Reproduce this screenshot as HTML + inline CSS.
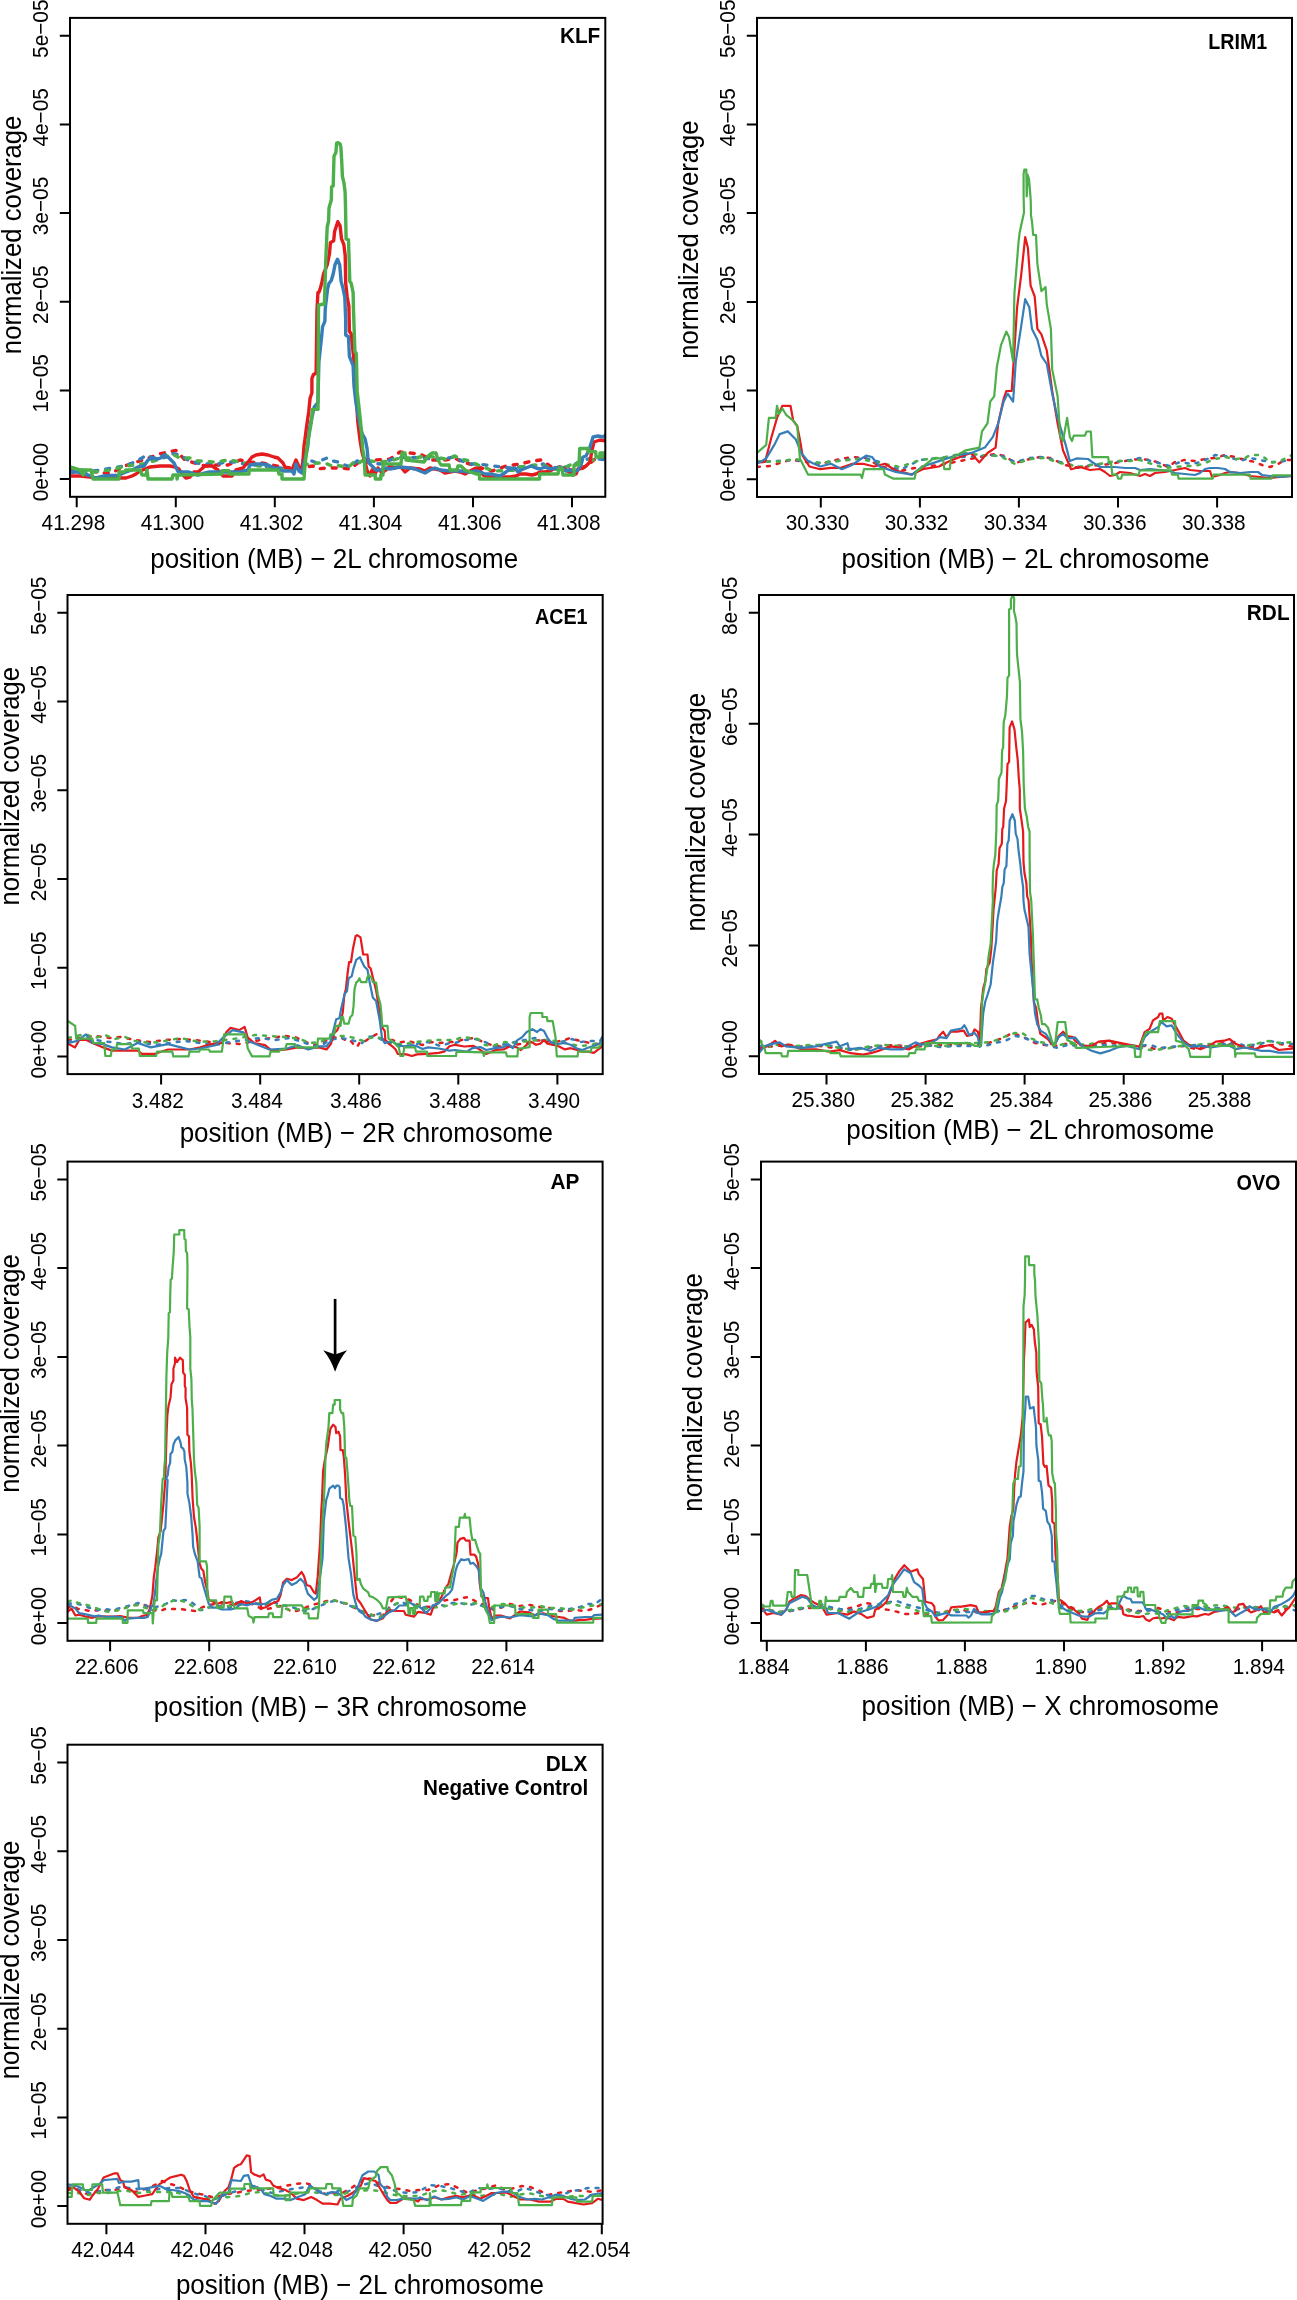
<!DOCTYPE html><html><head><meta charset="utf-8"><style>html,body{margin:0;padding:0;background:#fff;}svg{display:block;}text{font-family:"Liberation Sans",sans-serif;}svg{will-change:transform;}</style></head><body>
<svg width="1297" height="2300" viewBox="0 0 1297 2300">
<rect width="1297" height="2300" fill="#fff"/>
<clipPath id="c0"><rect x="70" y="17.9" width="535.3" height="478.9"/></clipPath>
<g clip-path="url(#c0)" fill="none" stroke-width="3.4" stroke-linejoin="round" stroke-linecap="round">
<path d="M70 470 76 474 84 472 92 471 100 473 111 473 126 465.5 138 461.5 149 458 159 454 166 452.5 176 450.5 185 460 195 463 205 466 216 465 228 465 240 460 250 462 262 463 272 465 282 467 292 468 300 468 306 467 313 466 317 469 326 468 340 468 350 469 353 467 362 459 375 460 390 459 400 452 410 453 420 454 432 460 445 460 455 458 462 462 470 464 478 467 492 471 506 466 520 464 532 461 541 460 553 468 560 467 568 469 575 471 580 469 589 464 595 459 600 458 606 457" stroke="#E41A1C" stroke-width="3.40" stroke-dasharray="4 8"/>
<path d="M70 472 78 471 88 472 100 470 112 468 125 466 135 462 147 455 153 458 160 457 169 453 180 455 188 460 197 463 208 464 218 464 225 462 235 462 245 464 255 465 262 466 270 467 280 468 290 470 300 468 306 464 312 461 317 463 322 460 327 458 333 461 338 462 345 465 351 467 357 461 365 462 380 464 395 458 408 457 420 458 435 459 448 458 455 457 462 461 470 464 478 464 494 466 510 468 522 467 536 466 543 464 550 469 566 467 570 466 580 462 588 459 600 459 606 460" stroke="#377EB8" stroke-width="3.40" stroke-dasharray="4 8"/>
<path d="M70 467 76 469 84 470 95 472 110 470 122 467 130 465.5 136 465 145 463.5 152 461.5 161 459 172 454 180 458 192 458 198 461 205 461 212 462 222 461 228 460 235 461 245 463 252 465 260 466 268 467 275 468 283 470 290 469 296 468 302 466 308 464 319 463 325 463 333 466.5 338 465.7 345 466.6 349 466.6 355 461 359 463 365 459 370 461 380 462 390 461 400 458 415 458 425 456 435 457 445 459 455 456 460 459 470 461 480 466 494 471 518 470 520 467 535 465 545 466 550 468 560 470 570 465 575 463 585 461 590 460 595 460 600 457 606 455" stroke="#4DAF4A" stroke-width="3.40" stroke-dasharray="4 8"/>
<path d="M70 476 80 476 90 477 96 478 104 478 112 477 120 478 126 478 132 476 136 474 140 471 145 469 150 467 160 466 170 466 175 467 179 469 182 474 186 478 190 477 194 472 198 472 205 466 212 466 218 470 223 476 232 476 236 470 243 468 248 462 252 457 256 455 262 454 268 455 274 457 278 458 283 463 285 467 292 470 296 460 299 467 302 468 303 460 304 446 305 439 306.4 428 308.7 412 310.1 398 311.9 393 311.9 378.5 313.3 374.8 316.1 373 317 310 317.9 292.5 318.9 292.5 320.2 288.8 322.1 281.4 323.5 274 327.2 264.8 329.5 253.7 330.4 242.6 333.7 240.7 334.6 231.5 337.8 221.7 340.1 225.9 341.5 238.9 343.8 244.4 345.2 255.5 345.7 283.3 347.1 296.2 348.9 306.4 349.4 331.3 351.2 334 354 360.9 356 390 357.7 421 360 440 362 452 364 459 365 462 367 470 370 476 372 470 375 474 378 468 382 473 386 470 390 466 395 468 400 466 405 472 410 468 420 469 425 471 430 468 440 470 445 473 455 471 460 472 465 474 470 471 476 468 480 470 483 475 490 477 500 477 510 477 516 476 520 474 526 474 532 475 536 474 540 472 545 472 550 471 555 468 560 468 565 469 570 473 573 475 576 474 578 469 583 468 586 466 590 462 592 450 594 442 600 440 606 441" stroke="#E41A1C" stroke-width="3.40"/>
<path d="M70 472 78 472 88 475 96 478 104 476 110 475.5 118 475.5 126 472 132 470 138 467 144 466 148 460 153 458 158 459 163 457 168 457 174 463 178 471.6 188 472 198 475 205 473 210 472 220 472 230 472 240 472 248 470 250 465 256 464 262 464 268 465 272 467 278 469 283 471 292 471 294 474 296 464 299 471 302 473 303.6 464.8 305.9 455.5 307.8 446.3 309.6 427.8 311.9 417.6 314.2 407.1 317.9 402.5 318.9 361.8 321.6 336.8 322.6 326.7 324.9 321.1 325.2 310 325.6 305 326.3 299.9 327.6 288.8 329 283.3 331.3 280.5 333.2 274 335 264.8 337.5 259.2 339.7 264.8 341.1 281.4 342.9 287.9 344.8 297.1 345.7 320 345.7 335 348.5 336.8 349.4 356.3 353.1 365.5 354 385.9 355.9 402.5 358 415 360 425 362.3 434.2 365.1 438.9 367 448.1 367.9 457.4 368.8 462.9 372 466 376 470 380 470 385 468 390 469 400 467 410 468 415 469 420 471 425 473 430 470 435 468 440 470 450 471 460 471 470 472 476 471 480 472 485 474 490 474 495 475 500 476 503 474 506 472 510 469 515 468 518 472 521 470 526 468 531 466 536 468 540 469 545 467 550 469 556 468 560 467 566 471 570 470 574 472 578 470 581 465 583 457 586 456 588 452 590 447 593 437 598 436 604 437 606 434" stroke="#377EB8" stroke-width="3.40"/>
<path d="M70 467 80 470 83 475 86 470 91 470 93 479 119 479 119 472 124 472 126 470 140 470 142 475 146 475 147 470 148 479 172 479 173 475 177 475 177 479 178 475 222 474 222 470.6 229 470.6 229 474 249 474 249 470 278 470 279 474 282 474 282 479 304 479 305 465 308 440 310 430 311.5 421 312.4 409.4 318 409.4 318.5 305 324.4 304 325.8 260 327.2 227 328.6 221 329 208 331.3 200 331.6 187 333.2 186 334 156.2 335.9 152.4 336.6 143.1 338.2 142.7 340.1 143.9 340.9 147.7 341.7 160.8 342.4 176.3 344 183.2 345.1 191.7 345.5 207 346.1 238.9 348.5 239.8 349.8 281.4 351.2 283.3 353.1 292.5 353.5 310 354.9 351.6 356.3 353.5 357.2 391.4 360.5 421 362.8 450 364.2 457.4 365.1 475 375.3 475 375.3 479 380.8 479 380.8 475 383 475 383 464 401 464 402 453 405 453 406 460 424 462 428 456 432 453 436 453 438 460 441 465 449 465 450 470 457 470 458 466 461 466 465 470 476 474 479.5 474 479.5 479 539.6 479 539.6 474 558 474 559 468 562 468 563 475 574 475 574 465 579 465 579.7 448.5 588 448.5 588 451.6 595.7 451.6 596 457 600 457 600 453 606 453" stroke="#4DAF4A" stroke-width="3.40"/>
</g>
<rect x="70" y="17.9" width="535.3" height="478.9" fill="none" stroke="#000" stroke-width="2"/>
<text transform="translate(48.2,472.1) rotate(-90) scale(0.9579,1)" font-size="21.72" text-anchor="middle">0e+00</text>
<text transform="translate(48.2,383.4) rotate(-90) scale(0.9579,1)" font-size="21.72" text-anchor="middle">1e−05</text>
<text transform="translate(48.2,294.7) rotate(-90) scale(0.9579,1)" font-size="21.72" text-anchor="middle">2e−05</text>
<text transform="translate(48.2,206) rotate(-90) scale(0.9579,1)" font-size="21.72" text-anchor="middle">3e−05</text>
<text transform="translate(48.2,117.4) rotate(-90) scale(0.9579,1)" font-size="21.72" text-anchor="middle">4e−05</text>
<text transform="translate(48.2,28.7) rotate(-90) scale(0.9579,1)" font-size="21.72" text-anchor="middle">5e−05</text>
<text transform="translate(73.4,530.2) scale(0.9579,1)" font-size="21.72" text-anchor="middle">41.298</text>
<text transform="translate(172.5,530.2) scale(0.9579,1)" font-size="21.72" text-anchor="middle">41.300</text>
<text transform="translate(271.5,530.2) scale(0.9579,1)" font-size="21.72" text-anchor="middle">41.302</text>
<text transform="translate(370.6,530.2) scale(0.9579,1)" font-size="21.72" text-anchor="middle">41.304</text>
<text transform="translate(469.7,530.2) scale(0.9579,1)" font-size="21.72" text-anchor="middle">41.306</text>
<text transform="translate(568.8,530.2) scale(0.9579,1)" font-size="21.72" text-anchor="middle">41.308</text>
<path d="M70 479.1H59.8M70 390.4H59.8M70 301.7H59.8M70 213H59.8M70 124.4H59.8M70 35.7H59.8M76.7 496.8V507.2M175.8 496.8V507.2M274.8 496.8V507.2M373.9 496.8V507.2M473 496.8V507.2M572 496.8V507.2" stroke="#000" stroke-width="2" fill="none"/>
<text transform="translate(334.2,567.6) scale(0.9579,1)" font-size="27.14" text-anchor="middle">position (MB) − 2L chromosome</text>
<text transform="translate(21.1,234.9) rotate(-90) scale(0.9579,1)" font-size="26.83" text-anchor="middle">normalized coverage</text>
<text transform="translate(600.3,43.4) scale(0.9579,1)" font-size="21.72" text-anchor="end" font-weight="bold">KLF</text>
<clipPath id="c1"><rect x="757" y="17.9" width="535" height="479.1"/></clipPath>
<g clip-path="url(#c1)" fill="none" stroke-width="3.4" stroke-linejoin="round" stroke-linecap="round">
<path d="M757 467 770 466 790 460 800 461 820 464 840 459 852 457 865 458 880 466 900 471 920 467 940 465 960 461 980 457 995 454 1005 456 1015 463 1030 459 1040 457 1050 458 1065 465 1080 468 1090 466 1100 465 1110 464 1120 462 1130 460 1140 459 1150 460 1160 463 1168 467 1175 462 1185 460 1195 461 1205 459 1215 458 1225 455 1235 457 1245 460 1255 462 1262 465 1270 467 1278 464 1285 460 1292 460" stroke="#E41A1C" stroke-width="2.50" stroke-dasharray="2.9 7.1"/>
<path d="M757 462 775 461 795 460 820 463 845 460 865 458 880 462 900 470 920 460 940 458 960 457 980 456 1000 455 1015 462 1030 458 1045 457 1060 462 1080 467 1090 465 1100 464 1110 463 1120 461 1130 460 1140 458 1155 462 1170 466 1180 462 1192 464 1200 462 1210 458 1215 455 1225 456 1235 459 1240 461 1250 458 1260 460 1270 462 1280 462 1292 459" stroke="#377EB8" stroke-width="2.50" stroke-dasharray="2.9 7.1"/>
<path d="M757 461 775 462 795 459 815 463 840 461 860 459 880 463 900 467 920 460 945 457 965 453 980 455 1000 456 1015 464 1030 459 1045 458 1060 463 1080 467 1090 465 1100 464 1110 462 1120 461 1130 461 1140 460 1155 465 1165 468 1175 467 1188 466 1195 466 1205 463 1215 459 1225 457 1235 459 1245 458 1250 455 1260 455 1265 458 1270 463 1280 461 1292 455" stroke="#4DAF4A" stroke-width="2.50" stroke-dasharray="2.9 7.1"/>
<path d="M757 462.4 765 462 771.6 436.8 777 417.9 782.4 405.8 790.5 405.8 793.2 420.6 797.2 426 799.9 439.5 802.6 455.7 809.4 466.5 820.2 469.2 831 467.8 841 467.8 852.5 463.8 863 463.8 874.1 466.5 884.9 463.8 895.7 470.5 911.9 474.6 922.7 469.2 938.9 466.5 949.7 461.1 963.2 455.7 971 453 979.4 462.4 987.5 453 995.6 447.6 998.2 423.3 1003.6 399 1006.3 391 1011.7 391 1014.4 350.5 1017.1 307.3 1021.2 274.9 1025.2 237.1 1027.9 247.9 1030.6 285.7 1034.7 296.5 1037.4 328.9 1041.4 334.3 1046.8 350.5 1052.2 391 1057.6 423.3 1063 450.3 1071.1 469.2 1080 467 1090 470 1100 469 1105 472 1110 476 1115 475 1120 472 1130 473 1140 476 1145 474 1150 476 1155 473 1165 472 1175 470 1180 469 1185 468 1190 470 1200 471 1210 471 1212 477 1220 475 1225 473 1230 472 1240 473 1250 476 1260 477 1270 478 1280 477 1292 476" stroke="#E41A1C" stroke-width="2.20"/>
<path d="M757 463.8 766.2 458.4 774.3 444.9 779.7 434.1 787.8 431.4 795.9 439.5 801.3 453 808 461.1 820.2 466.5 831 463.8 841.7 469.2 852 465 866 455.7 872 457 879.5 466.5 895.7 471.9 911.9 474.6 922.7 466.5 938.9 461.1 955.1 455.7 971.3 453 984.8 447.6 992.9 436.8 998.2 423.3 1003.6 401.7 1007.7 393.6 1013.1 401.7 1015.8 361.3 1021.2 326.2 1025.2 299.2 1029.3 307.3 1032 328.9 1037.4 339.7 1041.4 355.9 1046.8 364 1052.2 393.6 1057.6 417.9 1065.7 444.9 1069.8 461.1 1076.5 458.4 1088 459 1092 462 1100 467 1110 467 1115 467 1125 468 1135 468 1140 470 1150 469 1160 470 1170 471 1175 473 1185 474 1195 475 1200 473 1205 469 1210 468 1218 468 1225 469 1230 472 1240 473 1250 472 1258 472 1262 475 1270 476 1280 477 1292 476" stroke="#377EB8" stroke-width="2.20"/>
<path d="M757 453 766.2 444.9 768.9 417.9 775.6 417.9 777 405.8 779 414 782.4 408.5 786.4 415.2 793.2 420.6 797.2 426 799.9 458.4 808 474.6 860.6 474.6 862 478 864 469.2 883.6 469.2 884.9 474.6 893 478.6 914.6 478.6 916 471.9 933.5 458.4 943 458.4 944.3 469.2 949.7 469.2 951 458.4 965.9 450.3 979.4 447.6 982 431.4 987.5 423.3 990.2 401.7 994.2 396.3 996.9 366.7 1001 345.1 1006.3 331.6 1009 337 1013.1 361.3 1014.4 293.8 1018.5 242.5 1019.6 232.8 1020.9 226.7 1022.7 218.6 1024 212.5 1023.6 195.2 1023.6 174.2 1024.3 169.6 1026.3 169.6 1026.5 182 1026.7 196.4 1027.3 185 1027.5 174.5 1028.9 178.5 1029.8 187.8 1030.7 200.1 1031 215.6 1032 221.7 1033.2 235 1036 235 1037.4 264.1 1041.4 291.1 1045.5 287.1 1046.8 304.6 1050.9 328.9 1052.2 369.4 1057.6 396.3 1060.3 436.8 1063 441 1067.1 417.9 1069.8 436.8 1072 441 1073.8 435.5 1085 435.6 1086.6 431.5 1090.8 431.5 1092.4 457.2 1108.2 457.2 1109 463 1111 463 1112.3 474.6 1117 474.6 1118.1 478.7 1121 478.7 1122.3 474.6 1138.8 474.6 1139.7 470.4 1171.2 470.4 1172 474.6 1177.8 474.6 1178.6 478.7 1212.6 478.7 1213.4 474.6 1249.9 474.6 1250.7 478.7 1271.4 478.7 1272.3 475.4 1292 475.4" stroke="#4DAF4A" stroke-width="2.20"/>
</g>
<rect x="757" y="17.9" width="535" height="479.1" fill="none" stroke="#000" stroke-width="2"/>
<text transform="translate(735.2,472.3) rotate(-90) scale(0.9579,1)" font-size="21.72" text-anchor="middle">0e+00</text>
<text transform="translate(735.2,383.6) rotate(-90) scale(0.9579,1)" font-size="21.72" text-anchor="middle">1e−05</text>
<text transform="translate(735.2,294.9) rotate(-90) scale(0.9579,1)" font-size="21.72" text-anchor="middle">2e−05</text>
<text transform="translate(735.2,206.1) rotate(-90) scale(0.9579,1)" font-size="21.72" text-anchor="middle">3e−05</text>
<text transform="translate(735.2,117.4) rotate(-90) scale(0.9579,1)" font-size="21.72" text-anchor="middle">4e−05</text>
<text transform="translate(735.2,28.7) rotate(-90) scale(0.9579,1)" font-size="21.72" text-anchor="middle">5e−05</text>
<text transform="translate(817.5,530.4) scale(0.9579,1)" font-size="21.72" text-anchor="middle">30.330</text>
<text transform="translate(916.6,530.4) scale(0.9579,1)" font-size="21.72" text-anchor="middle">30.332</text>
<text transform="translate(1015.6,530.4) scale(0.9579,1)" font-size="21.72" text-anchor="middle">30.334</text>
<text transform="translate(1114.7,530.4) scale(0.9579,1)" font-size="21.72" text-anchor="middle">30.336</text>
<text transform="translate(1213.8,530.4) scale(0.9579,1)" font-size="21.72" text-anchor="middle">30.338</text>
<path d="M757 479.3H746.8M757 390.6H746.8M757 301.9H746.8M757 213.1H746.8M757 124.4H746.8M757 35.7H746.8M820.8 497V507.4M919.9 497V507.4M1018.9 497V507.4M1118 497V507.4M1217.1 497V507.4" stroke="#000" stroke-width="2" fill="none"/>
<text transform="translate(1025.5,568) scale(0.9579,1)" font-size="27.14" text-anchor="middle">position (MB) − 2L chromosome</text>
<text transform="translate(698,239.6) rotate(-90) scale(0.9579,1)" font-size="26.83" text-anchor="middle">normalized coverage</text>
<text transform="translate(1267.3,49.2) scale(0.9579,1)" font-size="21.72" text-anchor="end" font-weight="bold" textLength="61.60" lengthAdjust="spacingAndGlyphs">LRIM1</text>
<clipPath id="c2"><rect x="67.5" y="595" width="535.2" height="479.1"/></clipPath>
<g clip-path="url(#c2)" fill="none" stroke-width="3.4" stroke-linejoin="round" stroke-linecap="round">
<path d="M68 1040 80 1038 95 1036 110 1038 120 1037 135 1040 150 1042 165 1040 180 1039 195 1040 210 1042 225 1043 240 1044 255 1041 270 1038 285 1036 295 1037 305 1042 315 1045 322 1043 330 1038 340 1037 345 1040 350 1040 354 1045 357 1047 360 1042 364 1042 369.7 1038 377 1034 383.7 1040 392.3 1040 400 1042.5 408 1041 415 1043 422.5 1045 431.2 1042 438.7 1043 449.5 1042 455 1042 465 1039 475 1038 485 1043 495 1046 505 1047 515 1045 525 1043 535 1040 545 1041 555 1042 565 1040 570 1038 580 1041 590 1043 598 1044 603 1044" stroke="#E41A1C" stroke-width="2.50" stroke-dasharray="2.9 7.1"/>
<path d="M68 1042 80 1039 95 1040 110 1042 125 1044 140 1042 155 1045 170 1043 185 1041 200 1043 215 1045 230 1042 245 1040 260 1038 275 1040 290 1038 305 1043 315 1046 322 1045 330 1040 340 1038 347 1039 355 1041 362 1043 368 1037 375 1036 382 1040 390 1043 400 1046 410 1046 420 1043 430 1042 440 1046 450 1043 455 1043 465 1040 475 1039 485 1042 495 1047 505 1044 515 1042 525 1040 535 1038 545 1041 555 1043 565 1041 572 1039 580 1042 590 1041 600 1041 603 1036" stroke="#377EB8" stroke-width="2.50" stroke-dasharray="2.9 7.1"/>
<path d="M68 1038 85 1034 95 1038 105 1035 115 1039 125 1037 135 1041 150 1043 165 1041 180 1038 195 1041 210 1042 225 1040 240 1038 255 1035 270 1036 285 1037 300 1039 310 1043 320 1042 333 1036 345 1036 355 1038 363 1041 370 1038 378 1037 385 1041 395 1044 405 1044 415 1042 425 1041 435 1040 445 1040 455 1040 462 1037 470 1038 478 1039 485 1045 492 1046 498 1044 505 1042 512 1043 520 1042 530 1041 540 1040 550 1040 560 1042 570 1044 580 1046 590 1045 600 1043 603 1040" stroke="#4DAF4A" stroke-width="2.50" stroke-dasharray="2.9 7.1"/>
<path d="M68.6 1044.1 75 1047.4 79.4 1039.8 86 1039.8 92.4 1043 103.2 1047.4 111.8 1050.6 137.7 1050.6 142 1053.8 155 1053.8 168 1049.5 189.5 1049.5 200.3 1047.4 211.1 1044.1 221.9 1043 226.2 1032.3 230.6 1027.9 239.2 1030.1 244.6 1026.9 247.8 1037.7 254.3 1043 265.1 1045.2 271.6 1050.6 286.7 1049.5 297.5 1047.4 308.3 1048.5 319.1 1047.4 326.5 1049.5 330.8 1044.1 334 1033.3 337.3 1030.1 340.5 1022.5 342.7 1012.8 344.3 995.6 345.9 989.1 347.5 974 349.1 962.1 351 962.1 352.9 949.1 355.6 936.2 357.2 935.1 360.5 937.3 363.2 954.5 367.5 954.5 368.6 966.4 370.7 968.6 373.4 979.4 376.1 990.2 378.3 1004.2 381 1021.5 382.6 1027.9 384.8 1031.2 385.3 1039.8 389.1 1044.1 392.3 1046.3 395.6 1049.5 397.7 1053.9 406.4 1054.4 411.8 1056 417 1054.4 427.9 1053.9 438.7 1052.8 444.1 1051.7 449.5 1046.3 455 1044.8 464.3 1046.5 473.5 1045.9 479.3 1049.4 486.2 1054 495.5 1050 503.6 1049.4 509.4 1046.5 516.3 1047.1 520.9 1050 526.7 1044.8 531.3 1041.9 536 1044.8 540.6 1043.6 544 1040.1 547.5 1043.6 553.3 1044.8 559.1 1046.5 564.9 1049.4 570.6 1048.2 575.3 1049.4 582.2 1051.7 588 1051.7 593.8 1052.9 598.4 1049.4 603 1045.9" stroke="#E41A1C" stroke-width="2.20"/>
<path d="M68.6 1043 77.3 1040.9 85.9 1034.4 92.4 1043 103.2 1044.1 111.8 1047.4 124.8 1049.5 137.7 1043 150.7 1047.4 168 1044.1 180.9 1047.4 189.5 1049.5 200.3 1048.5 215.4 1045.2 224.1 1036.6 232.7 1030.1 243.5 1032.3 247.8 1040.9 258.6 1045.2 269.4 1049.5 286.7 1048.5 297.5 1045.2 308.3 1049.5 319.1 1046.3 326.5 1046.3 330.8 1040.9 334 1028 336.2 1019.3 339.4 1018.2 341 1009.6 343.2 999.9 344.8 993.4 347 991.2 348.6 978.3 351.8 976.1 353.5 968.6 356.2 959.9 360 957.2 361.6 961 364.3 966.4 367.5 969.7 369.7 982.6 372.9 997.7 376.1 1001 378.3 1012.8 379.9 1021.5 382.1 1038.7 384.8 1043.1 389 1042 393.4 1042 397.7 1045.2 404.2 1046.3 411.8 1045.2 417 1046.3 422.5 1049 428 1047.4 438.7 1048.5 449.5 1050.6 455 1050 466.6 1051.7 472.3 1048.2 480.4 1047.1 486.2 1050 495.5 1048.2 503.6 1047.1 508.2 1044.2 512.8 1048.2 517.4 1040.1 522.1 1037.2 526.7 1032 532.5 1029.2 537.1 1032 540.6 1029.2 544 1030.9 547.5 1037.8 551 1042.5 556.8 1044.2 564.9 1043 570.6 1044.8 576.4 1048.2 582.2 1050 588 1047.7 593.8 1045.9 599.6 1043.6 603 1035.5" stroke="#377EB8" stroke-width="2.20"/>
<path d="M68.6 1021.5 75.1 1025.8 76.2 1038.7 92.4 1038.7 93.5 1043 104.3 1043 105.3 1056 110.7 1056 111.8 1049.5 116 1049.5 117.2 1044.1 131.2 1044.1 132 1048.5 138.8 1048.5 139.9 1056 156.1 1056 157.1 1051.7 172.3 1051.7 173.3 1056.4 188.5 1056.4 189.5 1051.7 199 1051.7 200.3 1049.5 209 1049.5 210 1051.7 221.9 1051.7 224.1 1034.4 245.7 1034.4 247.8 1048.5 252.1 1056.4 269.4 1056.4 270.5 1051.7 279 1051.7 280.2 1049.5 285 1049.5 286.7 1044.1 295 1044.1 296 1047.4 317 1047.4 318 1038.7 329.7 1038.7 330.3 1034.4 334 1034.4 335.7 1025.8 340.5 1025.8 341.6 1017.2 343 1017.2 344.3 1023.6 348.6 1023.6 350.2 1017.2 352.4 1015 353.5 1006.4 354.5 989.1 356.2 982.6 358.3 980.5 359.4 978.3 361 982.1 366.4 982.1 367 978.3 368.6 975.1 371.8 978.3 372.9 982.1 376.1 982.6 377.8 994.5 380.4 1004.2 381.5 1015 382.1 1025.8 387.5 1025.8 388.5 1038.7 393.4 1042 398.8 1047.4 400.4 1056 403.1 1056 404.2 1047.4 415 1047.4 416.1 1051.7 426.9 1051.7 427.4 1056 456 1056 456.6 1051.7 483 1052.3 483.9 1056 485 1052.3 505.9 1052.3 507 1056.3 517.4 1056.3 518 1048.8 529.6 1047.1 529.6 1017 530.7 1013 542.3 1013 542.3 1017 546.9 1017 547.5 1021.1 552.7 1021.1 555.6 1037.8 556.8 1056.3 577.6 1056.3 578.2 1051.7 590.9 1051.7 591.5 1047.7 598.4 1047.7 603 1042.5" stroke="#4DAF4A" stroke-width="2.20"/>
</g>
<rect x="67.5" y="595" width="535.2" height="479.1" fill="none" stroke="#000" stroke-width="2"/>
<text transform="translate(45.7,1049.4) rotate(-90) scale(0.9579,1)" font-size="21.72" text-anchor="middle">0e+00</text>
<text transform="translate(45.7,960.7) rotate(-90) scale(0.9579,1)" font-size="21.72" text-anchor="middle">1e−05</text>
<text transform="translate(45.7,872) rotate(-90) scale(0.9579,1)" font-size="21.72" text-anchor="middle">2e−05</text>
<text transform="translate(45.7,783.2) rotate(-90) scale(0.9579,1)" font-size="21.72" text-anchor="middle">3e−05</text>
<text transform="translate(45.7,694.5) rotate(-90) scale(0.9579,1)" font-size="21.72" text-anchor="middle">4e−05</text>
<text transform="translate(45.7,605.8) rotate(-90) scale(0.9579,1)" font-size="21.72" text-anchor="middle">5e−05</text>
<text transform="translate(157.8,1107.5) scale(0.9579,1)" font-size="21.72" text-anchor="middle">3.482</text>
<text transform="translate(256.9,1107.5) scale(0.9579,1)" font-size="21.72" text-anchor="middle">3.484</text>
<text transform="translate(355.9,1107.5) scale(0.9579,1)" font-size="21.72" text-anchor="middle">3.486</text>
<text transform="translate(455,1107.5) scale(0.9579,1)" font-size="21.72" text-anchor="middle">3.488</text>
<text transform="translate(554.1,1107.5) scale(0.9579,1)" font-size="21.72" text-anchor="middle">3.490</text>
<path d="M67.5 1056.4H57.3M67.5 967.7H57.3M67.5 879H57.3M67.5 790.2H57.3M67.5 701.5H57.3M67.5 612.8H57.3M161.1 1074.1V1084.5M260.2 1074.1V1084.5M359.2 1074.1V1084.5M458.3 1074.1V1084.5M557.4 1074.1V1084.5" stroke="#000" stroke-width="2" fill="none"/>
<text transform="translate(366.3,1141.9) scale(0.9579,1)" font-size="27.14" text-anchor="middle">position (MB) − 2R chromosome</text>
<text transform="translate(18.9,786.2) rotate(-90) scale(0.9579,1)" font-size="26.83" text-anchor="middle">normalized coverage</text>
<text transform="translate(587.5,623.5) scale(0.9579,1)" font-size="21.72" text-anchor="end" font-weight="bold" textLength="54.91" lengthAdjust="spacingAndGlyphs">ACE1</text>
<clipPath id="c3"><rect x="759" y="595" width="535" height="479"/></clipPath>
<g clip-path="url(#c3)" fill="none" stroke-width="3.4" stroke-linejoin="round" stroke-linecap="round">
<path d="M759 1048 775 1046 790 1045 805 1047 820 1046 835 1048 850 1049 865 1048 880 1046 895 1045 910 1047 925 1046 940 1045 955 1045 975 1044 985 1044 995 1041 1005 1037 1012 1033 1018 1035 1025 1038 1035 1043 1045 1045 1055 1046 1065 1044 1075 1045 1090 1047 1100 1044 1110 1042 1120 1045 1135 1046 1145 1046 1155 1049 1165 1048 1175 1047 1185 1046 1195 1049 1205 1047 1215 1044 1225 1043 1235 1045 1245 1046 1255 1047 1265 1046 1280 1044 1294 1047" stroke="#E41A1C" stroke-width="2.50" stroke-dasharray="2.9 7.1"/>
<path d="M759 1046 775 1044 790 1046 805 1047 820 1045 835 1046 850 1050 865 1048 880 1046 895 1047 910 1046 925 1045 940 1047 955 1046 975 1046 985 1046 995 1043 1005 1041 1015 1036 1022 1037 1030 1040 1040 1043 1050 1046 1058 1048 1070 1044 1075 1046 1090 1046 1105 1045 1120 1046 1135 1046 1150 1045 1160 1048 1170 1047 1180 1046 1195 1045 1210 1047 1225 1044 1235 1042 1245 1046 1260 1044 1270 1041 1280 1043 1294 1044" stroke="#377EB8" stroke-width="2.50" stroke-dasharray="2.9 7.1"/>
<path d="M759 1040 770 1047 780 1044 795 1046 810 1045 825 1045 840 1048 855 1050 870 1046 885 1045 900 1046 915 1047 930 1046 945 1046 960 1043 970 1043 980 1043 990 1042 1000 1039 1008 1035 1015 1033 1022 1033 1030 1038 1040 1042 1050 1044 1060 1045 1070 1043 1075 1045 1090 1044 1100 1042 1110 1041 1120 1044 1135 1046 1150 1050 1165 1049 1180 1046 1195 1045 1205 1044 1215 1044 1225 1044 1240 1047 1255 1044 1268 1041 1280 1043 1294 1042" stroke="#4DAF4A" stroke-width="2.50" stroke-dasharray="2.9 7.1"/>
<path d="M759.6 1049.3 767.3 1046.3 775 1040.9 781.2 1046.3 788.9 1044.7 801.3 1049.3 816 1049.3 829 1051.7 839.8 1050.1 850.6 1053.2 863 1054.7 870.7 1053.2 878.4 1050.9 890.7 1046.3 901.5 1047.8 909.2 1049.3 916.9 1044.7 927.7 1041.6 937 1039.3 940 1035 943.2 1031.7 946.5 1037.1 950.8 1031.7 957 1031.7 963.7 1030.6 967 1036 972 1035 974.5 1029.5 977.8 1031.7 979.9 1040.3 981 1008 982 1000 983.2 988.5 985.3 981 986.4 969.1 989.7 962.6 991.3 948.6 992.9 921.6 993.5 910 995.8 887.1 996.7 870.5 998.6 864 999.5 848.3 1001.8 843.7 1002.3 828.9 1003.2 827 1004.1 808.5 1006 801.1 1006.5 790 1007.5 764.1 1009.1 761.9 1009.6 727.4 1012.1 721.4 1014.5 729.5 1016.1 745.7 1017.7 759.8 1018.8 778.1 1019.8 790 1019.8 808.5 1021.2 817.8 1023.1 831.6 1023.5 862.2 1024.5 873.3 1026.3 882.5 1027.2 896.4 1028.5 900 1030.7 932.4 1031.8 964.8 1033.9 1002.5 1036.1 1008 1038.2 1024.1 1040.4 1033.9 1043.6 1036 1047.9 1039.2 1051.2 1043.6 1054.4 1045.7 1058.7 1036 1063.1 1031.7 1067.4 1036 1072.8 1037.1 1075 1040.7 1081.8 1045.8 1092 1045.8 1098.7 1041.6 1108.9 1040.7 1117.4 1042.4 1125.9 1044.1 1134.4 1045.8 1139.5 1046.6 1144.6 1032.2 1149.6 1028.8 1153 1020.4 1158.1 1017 1159.8 1013.6 1162.4 1013.6 1163.2 1020.4 1167.5 1017 1171.7 1018.7 1175.1 1025.4 1178.5 1031.4 1183.6 1040.7 1190.4 1045.8 1200.5 1049.2 1210.7 1045 1215.8 1041.6 1224.3 1040.7 1229.4 1039 1236.2 1044.1 1244.6 1047.5 1254.8 1049.2 1261.6 1046.6 1270.1 1045 1278.6 1050 1287 1049.2 1294 1048.5" stroke="#E41A1C" stroke-width="2.20"/>
<path d="M759.6 1052.4 764.3 1046.3 772 1043.9 779.7 1042.4 785.8 1046.3 801.3 1047.8 816.7 1046.3 825.9 1043.9 836.7 1041.6 839.8 1046.3 847.5 1043.2 849.1 1049.3 859.9 1047.8 870.7 1050.9 878.4 1047.8 890.7 1049.3 903 1049.3 915.4 1042.4 921.5 1044.7 932.3 1042.4 940 1037.1 946.5 1038.2 950.8 1030.6 961.6 1028.5 964.3 1025.2 966 1028 969.1 1035 974.5 1032.8 977.8 1037.1 979.9 1046.8 981 1045.7 983.2 1013.3 985.3 1001.5 987.5 995 990.7 984.2 992.9 962.6 996.1 941 997.2 921.6 999 910 1001.3 897.3 1002.3 887.1 1003.7 883.4 1004.6 869.6 1006.4 865.9 1007.4 843.7 1008.7 840.4 1009.7 820.5 1012.4 814.2 1014.8 820.5 1015.7 833.5 1017.5 839 1018.5 850.1 1020.3 864 1021.2 873.3 1023.1 887.1 1023.5 901 1024.5 910 1025.3 913 1028.5 927 1029.6 954 1032.8 986.4 1035 1013.3 1037.2 1024.1 1040.4 1030.6 1045.8 1033.9 1050.1 1040.3 1054.4 1044.6 1058.7 1037.1 1063.1 1033.9 1067.4 1038.2 1073.9 1038.2 1075 1037.3 1081.8 1045.8 1092 1050.9 1100.4 1053.4 1108.9 1050.9 1117.4 1047.5 1125.9 1045.8 1139.5 1049.2 1144.6 1037.3 1149.6 1032.2 1158.1 1027.1 1161.5 1022.1 1166.6 1026.3 1171.7 1025.4 1176.8 1033.9 1183.6 1042.4 1190.4 1046.6 1202.2 1045.8 1210.7 1047.5 1227.7 1045 1236.2 1049.2 1244.6 1047.5 1252 1049 1261.6 1050.9 1270 1050.9 1278.6 1052.6 1294 1052.6" stroke="#377EB8" stroke-width="2.20"/>
<path d="M759.6 1040.1 764.3 1047.8 765.8 1053.2 781.2 1053.2 782 1056.3 787.4 1056.3 788.2 1050.9 829 1050.9 830.6 1053.2 839.8 1053.2 840.6 1056.3 908.4 1056.3 909.2 1053.2 915 1053.2 916.1 1049.3 924.6 1049.3 925.4 1043.2 970 1043.2 975 1046 980 1046 981 1043.6 982.1 1002.5 983.2 993.9 985.3 982 987.5 966.9 988.6 956.1 990.7 943.2 992.9 900 992.6 891.8 993 873.3 993.9 864 995.3 854.8 996.3 831.6 996.7 804.8 998.1 801.1 998.6 790 998.8 779.2 1001.5 772.7 1002.1 750 1003.1 747.9 1003.7 722 1005.3 715.5 1006.9 697.2 1007.5 677.7 1009.1 675.6 1009.1 609.4 1010.9 608.5 1010.9 599.3 1012.3 595.8 1013.5 596.7 1014.2 598.8 1013.9 610.8 1015.1 615.5 1016.5 623.3 1016.9 650.7 1017.2 656.1 1018.3 666.9 1019.9 682 1020.4 718.7 1022 731.7 1023.1 751.1 1023.7 783.5 1024 790 1024.9 808.5 1026.8 816.8 1028.2 827 1029.6 831.6 1029.6 854.8 1030 891.8 1031.2 900 1032.8 932.4 1033.9 964.8 1035 999.3 1037.2 999.3 1038.8 1008 1040.9 1015.5 1042 1024.1 1044.7 1024.1 1047.9 1027.4 1050.1 1034.9 1053.3 1045.7 1055 1045 1057.7 1022 1065.2 1022 1067.4 1040.3 1074.9 1043.6 1076 1047.9 1080 1047.9 1100 1047 1134.4 1045.8 1135.2 1056.8 1140.3 1056.8 1141.2 1045.8 1142.9 1039 1146.2 1032.2 1158.1 1032.2 1159.8 1021.2 1175.1 1021.2 1175.9 1040.7 1181.9 1042.4 1188.7 1049.2 1190.4 1056.8 1209.9 1056.8 1210.7 1045.8 1234.5 1045.8 1235.3 1056.8 1236 1053.4 1254.8 1053.4 1255.7 1056.8 1294 1056.8" stroke="#4DAF4A" stroke-width="2.20"/>
</g>
<rect x="759" y="595" width="535" height="479" fill="none" stroke="#000" stroke-width="2"/>
<text transform="translate(737.2,1049.3) rotate(-90) scale(0.9579,1)" font-size="21.72" text-anchor="middle">0e+00</text>
<text transform="translate(737.2,938.4) rotate(-90) scale(0.9579,1)" font-size="21.72" text-anchor="middle">2e−05</text>
<text transform="translate(737.2,827.5) rotate(-90) scale(0.9579,1)" font-size="21.72" text-anchor="middle">4e−05</text>
<text transform="translate(737.2,716.7) rotate(-90) scale(0.9579,1)" font-size="21.72" text-anchor="middle">6e−05</text>
<text transform="translate(737.2,605.8) rotate(-90) scale(0.9579,1)" font-size="21.72" text-anchor="middle">8e−05</text>
<text transform="translate(823.2,1107.4) scale(0.9579,1)" font-size="21.72" text-anchor="middle">25.380</text>
<text transform="translate(922.3,1107.4) scale(0.9579,1)" font-size="21.72" text-anchor="middle">25.382</text>
<text transform="translate(1021.3,1107.4) scale(0.9579,1)" font-size="21.72" text-anchor="middle">25.384</text>
<text transform="translate(1120.4,1107.4) scale(0.9579,1)" font-size="21.72" text-anchor="middle">25.386</text>
<text transform="translate(1219.5,1107.4) scale(0.9579,1)" font-size="21.72" text-anchor="middle">25.388</text>
<path d="M759 1056.3H748.8M759 945.4H748.8M759 834.5H748.8M759 723.7H748.8M759 612.8H748.8M826.5 1074V1084.4M925.6 1074V1084.4M1024.6 1074V1084.4M1123.7 1074V1084.4M1222.8 1074V1084.4" stroke="#000" stroke-width="2" fill="none"/>
<text transform="translate(1030.3,1139.4) scale(0.9579,1)" font-size="27.14" text-anchor="middle">position (MB) − 2L chromosome</text>
<text transform="translate(704.8,812.2) rotate(-90) scale(0.9579,1)" font-size="26.83" text-anchor="middle">normalized coverage</text>
<text transform="translate(1289.6,619.6) scale(0.9579,1)" font-size="21.72" text-anchor="end" font-weight="bold">RDL</text>
<clipPath id="c4"><rect x="67.5" y="1161.6" width="535.1" height="479.2"/></clipPath>
<g clip-path="url(#c4)" fill="none" stroke-width="3.4" stroke-linejoin="round" stroke-linecap="round">
<path d="M68 1608 72 1605 78 1609 85 1610 90 1611 100 1610 110 1611 118 1610 125 1608 133 1605 140 1605 145 1605 150 1610 160 1611 165 1609 172 1609 180 1609 187 1610 195 1611 203 1607 210 1605 220 1603 230 1605 235 1605 245 1602 255 1605 263 1610 272 1608 280 1606 286 1608 292 1612 300 1610 307 1607 312 1605 320 1603 327 1601 333 1600 340 1602 348 1604 355 1608 363 1612 372 1615 380 1616 388 1613 390 1603 395 1596 402 1598 410 1600 420 1606 428 1607 435 1606 440 1601 448 1600 455 1600 462 1598 468 1597 475 1601 480 1603 487 1606 494 1610 500 1608 510 1604 520 1606 530 1605 540 1607 550 1608 560 1611 568 1611 575 1610 585 1611 592 1609 603 1604" stroke="#E41A1C" stroke-width="2.50" stroke-dasharray="2.9 7.1"/>
<path d="M68 1604 74 1603 82 1605 90 1608 97 1610 104 1609 112 1610 120 1608 128 1606 138 1603 145 1605 152 1608 160 1606 168 1603 172 1600 178 1601 185 1600 190 1601 195 1605 200 1610 205 1610 210 1607 220 1606 230 1608 235 1603 245 1601 255 1603 265 1605 272 1601 280 1605 288 1606 298 1609 305 1611 313 1609 320 1606 327 1603 333 1601 340 1602 348 1605 355 1608 362 1613 370 1616 378 1614 385 1612 390 1607 400 1602 408 1604 415 1605 422 1608 430 1606 438 1604 445 1606 452 1603 460 1603 468 1605 475 1604 483 1606 490 1609 496 1607 503 1607 510 1606 520 1609 530 1610 540 1611 550 1609 560 1610 570 1609 580 1607 588 1604 595 1604 603 1598" stroke="#377EB8" stroke-width="2.50" stroke-dasharray="2.9 7.1"/>
<path d="M68 1602 72 1600 78 1603 84 1604 90 1606 96 1608 103 1611 110 1612 118 1610 123 1609 130 1606 137 1605 143 1607 152 1610 160 1608 167 1603 175 1600 182 1601 188 1603 195 1608 200 1610 207 1607 215 1608 225 1606 235 1606 245 1604 255 1603 265 1605 272 1603 280 1607 290 1610 300 1609 308 1609 318 1607 326 1602 333 1600 340 1602 348 1604 355 1607 362 1611 370 1614 378 1618 385 1614 392 1606 398 1603 405 1605 413 1607 422 1609 430 1608 440 1607 445 1606 452 1605 460 1603 468 1604 475 1603 482 1606 490 1608 496 1605 503 1604 510 1605 520 1607 530 1608 540 1606 550 1608 560 1608 570 1610 580 1608 590 1606 603 1604" stroke="#4DAF4A" stroke-width="2.50" stroke-dasharray="2.9 7.1"/>
<path d="M67.7 1611.6 71.6 1608.6 75.4 1615.5 79.3 1614.7 84.7 1616.3 92.4 1617.8 98.6 1616.3 114 1616.6 120 1616 129.3 1617.8 138.5 1617.8 142.2 1616 146.8 1615.1 149.6 1609.5 151.5 1600.3 152.4 1595.6 153.8 1577.1 155.2 1567.9 157 1552.2 158.4 1537.4 160.7 1530.9 163.5 1503.1 165.3 1480 166.6 1432.4 167.4 1414.7 168.6 1405.4 170.5 1397.7 171.5 1384.3 173.4 1380.4 173.4 1368.7 175 1363.2 175 1357.7 177 1362 180.1 1357.7 182.8 1360.1 183.2 1372.6 184.8 1374.9 184.8 1385.9 185.6 1388.2 185.5 1397.7 187.1 1407.7 187.4 1434.7 189 1436.3 189.4 1451.7 190.9 1463.2 191.7 1474.8 192.6 1498.5 194 1517 195.9 1528.1 197.2 1540.1 198.6 1554 199.6 1563.3 201.4 1568.8 203.3 1570.7 205.1 1581.8 207.4 1591 208.8 1600.3 212.5 1601.2 217.1 1604 221.8 1602.1 226.4 1603 231 1602.1 235 1604.7 241.2 1601 247.3 1603.5 253.5 1601.6 259.7 1597.3 261.5 1608.4 265.8 1607.2 272 1603.5 278.2 1601 280.6 1594.9 283.1 1582.5 286.8 1578.8 291.7 1580.1 296.7 1577.6 301.6 1572 304.1 1576.4 306.6 1585 310.3 1586.2 314 1592.4 315.8 1593.6 317.7 1576.4 320.1 1541.8 321.4 1508.5 322 1500 323.1 1471 324.7 1460.9 327.8 1446.3 329.3 1435.5 330.5 1428.5 333.2 1424.7 335.5 1427 336.2 1433.2 338.5 1431.6 340.1 1436.3 340.5 1450.1 342.8 1450.1 343.9 1457.8 345.1 1474.8 346.3 1500 348.5 1520.8 352.2 1551.7 355.3 1582.5 357.1 1598.6 360.8 1603.5 364.5 1609.7 368.2 1615.8 370.7 1619.5 376.9 1620.8 383 1618.3 386.7 1612.1 390 1610.1 395 1611 403.9 1611 405.7 1614.7 414.1 1616.6 417.8 1611.9 425.2 1612.9 430.7 1614.7 433.5 1606.4 438.1 1602.7 441.8 1596.2 445.5 1587.9 448.3 1584.2 451.1 1574 453.8 1564.8 456.6 1552.7 457.5 1542.6 460.3 1538.9 464 1537.9 465.9 1540.7 469.6 1540.7 470.5 1554.6 474.2 1554.6 476 1556.4 477.9 1562.9 478.8 1569.4 479.7 1583.3 481.6 1596.2 485.3 1598.1 488 1598.1 489 1606.4 491.8 1619.3 494.5 1615.6 501 1615.6 510 1618.4 520 1611.5 529.3 1612.4 534.8 1615.2 543.1 1613.3 552.4 1616.1 558.9 1617 564.4 1617.9 570 1620.7 575.5 1620.7 580.1 1619.8 584.8 1619.8 592.2 1618.9 603 1618.5" stroke="#E41A1C" stroke-width="2.20"/>
<path d="M67.7 1603.9 75.4 1608.6 79.3 1613.2 87 1614.7 94.7 1616.3 98.6 1615.5 106.3 1617 114 1616.6 121.7 1617 124.8 1620.9 127.8 1618.6 137.1 1617.8 144.8 1617.8 147.8 1616.9 149.6 1612.3 151.5 1606.7 153.3 1604.9 154.7 1595.6 156.1 1581.8 157.9 1567.9 159.8 1558.6 161.2 1554 163.5 1530.9 165.3 1528.1 166.3 1507.8 167.6 1480 166.2 1478.7 167.8 1474.8 168.6 1467.1 170.1 1463.2 170.5 1454 172.4 1451.7 173.6 1444 175.5 1440.1 178.6 1437 180.5 1442.4 181.3 1447.1 183.2 1448.6 184.4 1451.7 184.7 1459.4 186.3 1467.1 187.4 1482.5 187.5 1493.9 189.4 1503.1 191.2 1517 192.6 1535.5 193.1 1546.6 194.9 1554 197.7 1561.4 199.6 1577.1 201.4 1578.1 203.3 1585.5 206 1594.7 208.8 1604 212.5 1607.7 217 1607.7 221.8 1609.5 231 1609.5 236.6 1607.7 240 1604 247.3 1605.3 253 1603.5 259.7 1604.7 266 1603.5 272 1599.8 277 1598.6 280.6 1592.4 283.1 1585 286.8 1580.1 291.7 1585 296.7 1582.5 300.4 1578.8 304.1 1582.5 307.8 1593.6 314 1599.8 317 1597.3 320.1 1576.4 322.6 1557.9 323.8 1520.8 326.2 1500 327.8 1494.9 329.3 1488.7 333.2 1485.6 335 1488 336.5 1485.6 338.5 1485.6 339.7 1487.1 340.1 1497.9 342.4 1499.5 343.6 1504.8 346 1527 348.5 1557.9 351 1573.9 353.4 1594.9 357.1 1608.4 362.1 1612.1 365.8 1617.1 370.7 1619.5 376.9 1620.8 383 1617.1 389.2 1612.1 395 1610 399.3 1605.5 403.9 1605.5 408.5 1601.8 413.1 1604.5 418.7 1606.4 422.4 1609.2 426.1 1612.9 429.8 1609.2 433.5 1605.5 438.1 1603.6 441.8 1599.9 445.5 1596.2 449.2 1593.4 452 1589.7 453.8 1580.5 455.7 1570.3 457.5 1564.8 461.2 1559.2 464 1560.1 468.6 1559.2 470.5 1563.8 473.3 1562.9 476 1565.7 478.8 1570.3 480.7 1587.9 483.4 1592.5 485.3 1601.8 488 1611 491.8 1620.3 494.5 1618.4 501 1616.6 510 1617.5 520 1615.2 533 1616.5 538.5 1613.3 547.8 1615.2 553.3 1618.9 558.9 1620.7 573.7 1620.7 574.6 1617.9 584.8 1617 592.2 1617 594 1615.2 603 1614.7" stroke="#377EB8" stroke-width="2.20"/>
<path d="M67.7 1618.6 87.8 1618.6 88.1 1622.8 96.2 1622.8 96.6 1618.6 122.5 1618.6 122.8 1622.8 127.5 1622.8 127.8 1610.4 143.1 1610.4 143.6 1613.2 152.4 1613.2 152.8 1623.4 153.8 1609.5 154.7 1600.3 157 1600.3 158.4 1544.8 159.8 1535.5 161.2 1503.1 162.6 1480 162.8 1478.7 163.9 1478.7 164.3 1467.1 165.1 1459.4 165.5 1432.4 166.2 1390 166.4 1376.5 167.2 1353 168.3 1337.4 168.7 1313.1 169.9 1312.3 170.3 1292 170.7 1279.5 171.9 1278.7 172.6 1267 173.8 1251.3 174.2 1234.5 179.3 1234.5 179.3 1230.2 184.2 1230.2 184.4 1238.8 185.6 1239.6 185.9 1251.3 187.1 1252.9 187.5 1267 187.1 1308.4 188.7 1309.2 189.5 1326.4 190.3 1337.4 190.3 1368.7 191.4 1378.8 191.8 1400 192.5 1409.3 193.2 1432.4 194 1459.4 194.8 1471 196.3 1482.5 197.2 1505 198.6 1507.8 199.6 1526.3 199.6 1561.4 206 1561.4 207 1566 207.4 1591 208.3 1600.3 216.2 1600.3 217.1 1607.7 223.6 1607.7 224.5 1596.6 231 1596.6 231.5 1600.3 235 1608.4 247.3 1608.4 248.6 1615.8 252.9 1618.3 253.5 1622.6 254.5 1617.1 268.3 1617.1 268.9 1613.4 272.7 1613.4 273.2 1617.1 281.3 1617.1 282.5 1605.3 301.6 1605.3 303.5 1608.4 304.1 1613.4 308.4 1613.4 309 1618.3 317.7 1618.3 318.9 1607.2 320.1 1576.4 321.4 1539.3 323.2 1508.5 323.9 1500 324.7 1482.5 325.4 1459.4 326.2 1444 327.4 1435.5 328.5 1427 329.3 1413.1 332.4 1413.1 333.2 1404.6 334.7 1404.6 334.7 1400 340.1 1400 340.1 1409.3 341.6 1413.1 343.2 1413.1 344.3 1427 345.1 1457.1 346.3 1457.8 347.4 1471 348.6 1487.9 349.3 1500 350.3 1506 352 1506 353.4 1535.6 355.3 1536.9 356.5 1554.1 357 1580 359.6 1578.8 360.8 1583.8 363.3 1588.7 368.2 1592.4 369.5 1596.1 373.2 1597.3 376.9 1599.8 380.6 1603.5 383 1608.4 386 1608.4 388 1597.3 405.7 1596.7 406.7 1601.8 408 1601.8 408.5 1613.8 410 1613.8 410.4 1608.2 412.7 1608.2 413.1 1613.8 415 1613.8 415.4 1605.5 419.6 1605.5 420.1 1596.7 423.4 1596.7 424.2 1600.8 427.5 1600.8 427.9 1596.7 430.7 1596.7 431.2 1592 434.9 1592 435.3 1601.3 436.5 1601.3 437.2 1592 438 1601 439 1593.4 444.6 1593.4 445.5 1587.4 450.1 1587.4 451.5 1578.6 453.8 1566.6 454.8 1549 455.7 1526.8 458.9 1526.8 459.8 1517.6 464 1517.6 464.9 1513.9 465.4 1517.6 469.6 1517.6 470.9 1531.5 472.3 1539.8 475.1 1539.8 477 1546.3 478.8 1551.8 480.2 1553.7 481.1 1596.2 482.5 1597.1 485.3 1609.2 488.5 1615.6 489.9 1623 494.1 1623 494.5 1605.5 515 1605.5 515.5 1614.2 532.5 1614.2 533 1617.9 538.5 1617.9 538.5 1609.6 547.8 1609.6 548.2 1614.2 556.1 1614.2 557 1622.6 593.1 1622.6 593.5 1617.9 603 1617.9" stroke="#4DAF4A" stroke-width="2.20"/>
</g>
<rect x="67.5" y="1161.6" width="535.1" height="479.2" fill="none" stroke="#000" stroke-width="2"/>
<text transform="translate(45.7,1616.1) rotate(-90) scale(0.9579,1)" font-size="21.72" text-anchor="middle">0e+00</text>
<text transform="translate(45.7,1527.4) rotate(-90) scale(0.9579,1)" font-size="21.72" text-anchor="middle">1e−05</text>
<text transform="translate(45.7,1438.6) rotate(-90) scale(0.9579,1)" font-size="21.72" text-anchor="middle">2e−05</text>
<text transform="translate(45.7,1349.9) rotate(-90) scale(0.9579,1)" font-size="21.72" text-anchor="middle">3e−05</text>
<text transform="translate(45.7,1261.1) rotate(-90) scale(0.9579,1)" font-size="21.72" text-anchor="middle">4e−05</text>
<text transform="translate(45.7,1172.4) rotate(-90) scale(0.9579,1)" font-size="21.72" text-anchor="middle">5e−05</text>
<text transform="translate(106.8,1674.2) scale(0.9579,1)" font-size="21.72" text-anchor="middle">22.606</text>
<text transform="translate(205.9,1674.2) scale(0.9579,1)" font-size="21.72" text-anchor="middle">22.608</text>
<text transform="translate(304.9,1674.2) scale(0.9579,1)" font-size="21.72" text-anchor="middle">22.610</text>
<text transform="translate(404,1674.2) scale(0.9579,1)" font-size="21.72" text-anchor="middle">22.612</text>
<text transform="translate(503.1,1674.2) scale(0.9579,1)" font-size="21.72" text-anchor="middle">22.614</text>
<path d="M67.5 1623.1H57.3M67.5 1534.4H57.3M67.5 1445.6H57.3M67.5 1356.9H57.3M67.5 1268.1H57.3M67.5 1179.4H57.3M110.1 1640.8V1651.2M209.2 1640.8V1651.2M308.2 1640.8V1651.2M407.3 1640.8V1651.2M506.4 1640.8V1651.2" stroke="#000" stroke-width="2" fill="none"/>
<text transform="translate(340.4,1715.5) scale(0.9579,1)" font-size="27.14" text-anchor="middle">position (MB) − 3R chromosome</text>
<text transform="translate(18.9,1373.5) rotate(-90) scale(0.9579,1)" font-size="26.83" text-anchor="middle">normalized coverage</text>
<text transform="translate(579.3,1188.5) scale(0.9579,1)" font-size="21.72" text-anchor="end" font-weight="bold">AP</text>
<clipPath id="c5"><rect x="761" y="1161.6" width="535" height="479.2"/></clipPath>
<g clip-path="url(#c5)" fill="none" stroke-width="3.4" stroke-linejoin="round" stroke-linecap="round">
<path d="M761 1605 770 1610 780 1612 790 1611 800 1609 810 1608 820 1607 830 1608 840 1611 850 1608 858 1606 865 1603 872 1604 880 1609 890 1610 898 1612 905 1614 912 1614 920 1613 930 1614 940 1614 950 1610 960 1610 970 1611 980 1612 990 1612 1000 1611 1008 1609 1015 1606 1020 1605 1026 1603 1033 1603 1040 1605 1048 1603 1055 1601 1062 1603 1068 1606 1075 1609 1082 1612 1090 1613 1095 1609 1105 1608 1115 1607 1123 1608 1130 1610 1135 1611 1142 1611 1150 1610 1158 1608 1165 1610 1172 1613 1180 1612 1188 1610 1196 1609 1205 1609 1215 1608 1225 1609 1235 1608 1245 1610 1255 1609 1265 1612 1275 1611 1285 1609 1296 1606" stroke="#E41A1C" stroke-width="2.50" stroke-dasharray="2.9 7.1"/>
<path d="M761 1608 770 1611 780 1612 790 1611 800 1609 810 1606 820 1604 830 1607 840 1609 850 1610 860 1609 870 1606 880 1604 890 1602 897 1601 905 1604 912 1606 920 1608 930 1611 940 1613 950 1612 960 1612 970 1612 980 1613 990 1612 1000 1611 1008 1609 1015 1604 1020 1603 1025 1600 1030 1596 1035 1596 1040 1598 1046 1600 1052 1600 1058 1604 1065 1607 1072 1610 1080 1612 1088 1612 1095 1611 1105 1609 1115 1607 1125 1610 1135 1612 1145 1611 1152 1610 1160 1612 1168 1614 1176 1610 1185 1608 1195 1607 1205 1608 1215 1608 1225 1608 1235 1610 1245 1608 1255 1607 1265 1609 1275 1607 1285 1606 1296 1611" stroke="#377EB8" stroke-width="2.50" stroke-dasharray="2.9 7.1"/>
<path d="M761 1604 770 1610 780 1612 790 1610 800 1608 810 1606 820 1607 830 1609 840 1611 850 1612 860 1610 870 1608 880 1605 890 1603 900 1606 910 1608 918 1611 925 1613 935 1614 945 1612 955 1610 965 1609 975 1610 985 1611 995 1612 1003 1612 1010 1610 1015 1608 1020 1606 1025 1603 1030 1598 1037 1599 1045 1601 1052 1603 1060 1608 1068 1610 1078 1611 1088 1610 1095 1608 1105 1607 1115 1605 1123 1607 1130 1612 1138 1613 1145 1614 1152 1613 1160 1614 1168 1610 1176 1608 1184 1606 1192 1607 1200 1607 1210 1606 1220 1605 1230 1607 1240 1608 1250 1607 1260 1608 1270 1609 1280 1607 1290 1606 1296 1605" stroke="#4DAF4A" stroke-width="2.50" stroke-dasharray="2.9 7.1"/>
<path d="M761 1606.5 766.7 1614.6 773.2 1613 781.3 1614.6 786.1 1609.8 789.4 1601.7 794.2 1598.4 800.7 1595.2 805.6 1596 810.4 1600.1 815.3 1603.3 821.8 1606.5 826.6 1614.6 838 1613 847.7 1614.6 854.2 1611.4 862.2 1614.6 867.1 1617.9 873.6 1616.2 875.2 1609.8 881.7 1606.5 886.5 1601.7 891.4 1588.7 894.6 1579 899.5 1570.9 904.3 1565.2 910.8 1571.7 917.3 1569.3 918.9 1574.1 923 1579 925.4 1601.7 931.9 1603.3 934.3 1606.5 935.1 1616.2 938.3 1620.3 943 1620 948.1 1614.6 951.3 1607.3 959.4 1606.5 960 1606.9 970.8 1605.2 976.2 1606.3 978.4 1612.3 984.8 1612.3 989.1 1611.2 993.5 1611.2 995.6 1606.9 998.9 1591.8 1001.6 1588.5 1004.3 1575.6 1007.5 1558.3 1009.7 1527 1011.3 1516.2 1013.3 1510 1014.2 1488.1 1015.2 1473.3 1016.5 1461.2 1017.9 1452.9 1019.3 1444.6 1020.7 1436.3 1022.6 1417.8 1023.9 1360.2 1024.7 1344.8 1025.5 1322.5 1028.9 1319.4 1029.7 1327.1 1031.6 1324.8 1033.9 1329.4 1034.7 1341 1036.3 1352.5 1036.6 1371.8 1038.2 1387.2 1038.7 1423.3 1040.6 1424.2 1042 1436.3 1043.4 1464 1044.8 1466.8 1046.6 1465.9 1048.5 1485.3 1051.2 1488.1 1052.2 1501 1052.3 1521.6 1054.5 1523.7 1055.5 1554 1057.7 1575.6 1058.8 1599.3 1062.5 1601.5 1065.2 1603.6 1067.9 1606.9 1073.3 1609 1078.7 1613.3 1082 1618.7 1087.4 1619.8 1089.5 1614.4 1093.9 1612.3 1095 1610 1099.2 1606.6 1103.5 1604.1 1106.9 1600.7 1108.6 1604.1 1112 1603.3 1116 1603.3 1119.6 1605 1122.1 1607.5 1123.4 1614.3 1127.2 1615.6 1131.5 1616 1135.7 1616.8 1140 1616.8 1143.3 1616 1145.9 1619.4 1149.3 1621.1 1152.7 1618.5 1156.9 1617.7 1161.2 1618.5 1165.4 1617.7 1169.6 1618.5 1173.9 1620.2 1177.3 1616.8 1184.1 1617.7 1188.3 1616.8 1193.4 1616 1197 1616.4 1204.7 1614 1208.6 1614.7 1214 1612 1220.1 1610.8 1227.8 1607 1231.7 1612.4 1235.6 1610.8 1238.6 1604.7 1243.3 1603.9 1247.1 1609.3 1251 1612.4 1255.6 1610.8 1261 1606.2 1264.8 1613.9 1270.2 1610.8 1274.1 1612.4 1278 1610.8 1281.8 1615.5 1285.7 1610.8 1289.5 1607 1294.1 1600 1296 1597" stroke="#E41A1C" stroke-width="2.20"/>
<path d="M761 1611.4 766.7 1609.8 773 1612 781.3 1614.6 786.1 1609.8 789.4 1603.3 795.9 1600.1 802.3 1596.8 807.2 1598.4 812.1 1604.9 818.5 1608.1 825 1606.5 828.2 1613 838 1613 844.4 1616.2 849.3 1618.7 857.4 1613 870.3 1609 876.8 1606.5 883.3 1600.1 888.2 1595.2 891.4 1587.1 894.6 1582.2 899.5 1575.8 904 1569.3 910.8 1573.3 914.1 1582.2 918.9 1585.5 922.2 1588.7 923.8 1601.7 927 1608.1 931.9 1611.4 935.1 1616.2 940 1614.6 946.4 1613 951.3 1615.4 960 1615.5 966.5 1615.5 968.6 1617.7 971 1615.5 974 1609 977.3 1612.3 981.6 1614.4 990.2 1614.4 994.5 1613.3 997.2 1610.1 999.9 1597.2 1002.1 1591.8 1004.3 1579.9 1007.5 1564.8 1009.7 1559.4 1010.7 1543.2 1012.9 1535.6 1013.4 1521.6 1015.6 1510 1016.5 1504.7 1018.9 1497.3 1020.7 1496.4 1022.1 1482.5 1023.5 1471.4 1023.9 1427 1025.3 1408.5 1025.8 1396.5 1028.1 1396.5 1029 1402 1030 1408.5 1033.7 1407.1 1034.6 1415.9 1036 1427 1036.4 1445.5 1038.3 1460.3 1038.7 1480.7 1040.6 1481.6 1042 1491.8 1042.6 1500 1043.1 1508.6 1045.8 1510.8 1047.4 1521.6 1049.6 1524.8 1051.8 1535.6 1052.3 1561.5 1054.5 1561.5 1055 1570.2 1056.6 1584.2 1057.7 1597.2 1059.3 1606.9 1062.5 1607.9 1067.9 1611.2 1073.3 1613.3 1078.7 1615.5 1084.1 1616.6 1089.5 1616.6 1094.9 1613.3 1100 1613 1103.5 1613.4 1106.9 1610.9 1110.3 1607.5 1116.2 1609.2 1119.6 1602.4 1123 1595.6 1127.2 1598.2 1130.6 1599 1132.3 1602.4 1142.5 1602.4 1144.2 1605 1145.9 1609.2 1150.1 1609.2 1154.4 1610.9 1158.6 1612.6 1162.9 1614.3 1167.1 1618.5 1171.3 1616 1174.7 1618.5 1179.8 1611.7 1184.1 1610.9 1188.3 1610.9 1194.2 1608.3 1199.3 1607.5 1204.7 1610.1 1212 1610 1220.1 1610.8 1228 1610 1231.7 1612.4 1235.6 1616.2 1240.2 1613.2 1244.8 1610.8 1249.4 1606.2 1254.8 1609.3 1264.8 1609.3 1270.2 1612.4 1274.1 1607 1278 1605.4 1281.8 1603.9 1285.7 1601.6 1289.5 1599.3 1293.4 1595.4 1296 1590" stroke="#377EB8" stroke-width="2.20"/>
<path d="M761 1606.5 770 1606.5 770.8 1600.9 772.5 1600.9 773.2 1605.7 786.1 1605.7 787.8 1592 791 1592 791.8 1596.8 794.5 1596.8 795 1570.1 798.3 1570.1 798.3 1575 807.2 1575 808.8 1585.5 811.2 1601.7 812.1 1608.1 818.5 1608.1 819.3 1600.9 821 1600.9 821.8 1608.1 825 1608.1 825.8 1596.8 826.6 1600.9 838.8 1600.9 839.6 1596.8 846.1 1596.8 846.9 1592 850.9 1587.9 854 1592 857.4 1592 858.2 1596.8 863.1 1596.8 863.9 1587.9 870.3 1587.9 871.2 1583.9 873.6 1583.9 874.4 1575 875.2 1592 876.8 1583.9 881.7 1583.9 882.5 1587.9 887.3 1587.9 888.2 1579 891.4 1579 892.2 1575 893 1592 902.7 1592 903.5 1596.8 905.5 1596.8 906.8 1587.9 908 1592 912.4 1596.8 917.3 1596.8 918.9 1600.9 922.2 1600.9 923.8 1616.2 931.1 1616.2 931.9 1622.7 991.3 1622.5 991.8 1616.6 995.6 1612.3 997.2 1602.5 999.9 1591.8 1003.2 1586.4 1005.3 1579.9 1007.5 1564.8 1009.1 1554 1010.2 1537.8 1011.8 1519.4 1012.4 1510 1013.3 1483.4 1015.6 1478.8 1017.9 1478.8 1018.9 1466.8 1020.7 1465.9 1021.2 1445.5 1023 1425.2 1023.2 1400 1023.5 1306.3 1024.7 1294.7 1025 1280 1025.2 1260.8 1025.2 1256.4 1028.9 1256.4 1028.9 1260.8 1029.2 1265.2 1034.3 1265.2 1034.3 1274.3 1035 1280 1035.5 1296.2 1037.4 1315.5 1039 1344.8 1039.3 1380.3 1041.3 1383.4 1042.4 1400 1042.9 1403.9 1043.8 1421.5 1046.1 1421.5 1046.6 1417.8 1048 1431.6 1048.9 1435.3 1050.8 1435.3 1051.7 1440.9 1052.2 1473.3 1054 1482.5 1054.9 1483.4 1055.9 1510 1056.1 1532.4 1057.2 1548.6 1057.7 1575.6 1058.8 1607.9 1059.8 1613.9 1070.1 1613.9 1070.6 1622.5 1095.4 1622.5 1095.4 1618.5 1106.9 1618.5 1107.7 1609.2 1117.5 1609 1117.5 1596.5 1123.8 1596.5 1124.7 1591.8 1127.7 1591.8 1128.1 1587.6 1131 1587.6 1131.5 1592.2 1134 1592.2 1134.4 1587.6 1137.4 1587.6 1137.8 1596.5 1140 1596.5 1140.4 1591.8 1143.3 1591.8 1144.2 1604.1 1145 1605 1155.2 1605 1155.6 1610 1157.8 1610 1159.5 1617.7 1161.6 1622.8 1165.4 1622.8 1166.2 1618.5 1168.8 1614.3 1192.5 1614.3 1192.5 1605 1198.1 1605 1198.5 1600.7 1203.1 1600.7 1203.2 1603.1 1206.3 1604.7 1207 1609.3 1228.6 1609.3 1228.6 1622.4 1256.4 1622.4 1257.1 1617.8 1261 1613.9 1269.5 1613.9 1270.2 1600.4 1275.6 1600.4 1276.4 1596.6 1282.6 1596.6 1283.4 1591.6 1285.7 1587.7 1291.8 1587.7 1292.6 1581.5 1296 1578" stroke="#4DAF4A" stroke-width="2.20"/>
</g>
<rect x="761" y="1161.6" width="535" height="479.2" fill="none" stroke="#000" stroke-width="2"/>
<text transform="translate(739.2,1616.1) rotate(-90) scale(0.9579,1)" font-size="21.72" text-anchor="middle">0e+00</text>
<text transform="translate(739.2,1527.4) rotate(-90) scale(0.9579,1)" font-size="21.72" text-anchor="middle">1e−05</text>
<text transform="translate(739.2,1438.6) rotate(-90) scale(0.9579,1)" font-size="21.72" text-anchor="middle">2e−05</text>
<text transform="translate(739.2,1349.9) rotate(-90) scale(0.9579,1)" font-size="21.72" text-anchor="middle">3e−05</text>
<text transform="translate(739.2,1261.1) rotate(-90) scale(0.9579,1)" font-size="21.72" text-anchor="middle">4e−05</text>
<text transform="translate(739.2,1172.4) rotate(-90) scale(0.9579,1)" font-size="21.72" text-anchor="middle">5e−05</text>
<text transform="translate(763.5,1674.2) scale(0.9579,1)" font-size="21.72" text-anchor="middle">1.884</text>
<text transform="translate(862.6,1674.2) scale(0.9579,1)" font-size="21.72" text-anchor="middle">1.886</text>
<text transform="translate(961.6,1674.2) scale(0.9579,1)" font-size="21.72" text-anchor="middle">1.888</text>
<text transform="translate(1060.7,1674.2) scale(0.9579,1)" font-size="21.72" text-anchor="middle">1.890</text>
<text transform="translate(1159.8,1674.2) scale(0.9579,1)" font-size="21.72" text-anchor="middle">1.892</text>
<text transform="translate(1258.8,1674.2) scale(0.9579,1)" font-size="21.72" text-anchor="middle">1.894</text>
<path d="M761 1623.1H750.8M761 1534.4H750.8M761 1445.6H750.8M761 1356.9H750.8M761 1268.1H750.8M761 1179.4H750.8M766.8 1640.8V1651.2M865.9 1640.8V1651.2M964.9 1640.8V1651.2M1064 1640.8V1651.2M1163.1 1640.8V1651.2M1262.1 1640.8V1651.2" stroke="#000" stroke-width="2" fill="none"/>
<text transform="translate(1040.2,1715) scale(0.9579,1)" font-size="27.14" text-anchor="middle">position (MB) − X chromosome</text>
<text transform="translate(701.5,1392.4) rotate(-90) scale(0.9579,1)" font-size="26.83" text-anchor="middle">normalized coverage</text>
<text transform="translate(1280.5,1190) scale(0.9579,1)" font-size="21.72" text-anchor="end" font-weight="bold" textLength="45.94" lengthAdjust="spacingAndGlyphs">OVO</text>
<clipPath id="c6"><rect x="67.5" y="1744.7" width="535.1" height="479.1"/></clipPath>
<g clip-path="url(#c6)" fill="none" stroke-width="3.4" stroke-linejoin="round" stroke-linecap="round">
<path d="M68 2190 75 2188 85 2194 95 2192 105 2190 115 2190 125 2187 135 2192 145 2189 155 2185 162 2181 170 2184 178 2186 185 2190 195 2193 205 2195 215 2198 225 2194 235 2193 245 2191 255 2190 265 2189 275 2188 285 2186 295 2184 305 2183 312 2185 320 2192 328 2195 335 2193 342 2193 350 2189 357 2184 365 2178 372 2179 380 2184 390 2188 400 2189 410 2191 420 2190 428 2190 440 2185 450 2184 458 2188 468 2193 478 2190 488 2188 497 2185 505 2190 515 2188 522 2186 530 2187 538 2190 548 2195 557 2193 566 2192 575 2190 584 2191 594 2192 603 2190" stroke="#E41A1C" stroke-width="2.50" stroke-dasharray="2.9 7.1"/>
<path d="M68 2187 80 2190 90 2193 100 2191 110 2190 120 2187 130 2188 140 2189 150 2190 160 2189 170 2188 180 2188 188 2191 196 2194 205 2196 212 2200 220 2197 230 2193 240 2190 248 2188 255 2186 263 2190 272 2193 282 2191 292 2189 300 2188 310 2186 318 2191 325 2193 333 2193 340 2190 347 2192 355 2188 362 2185 370 2183 378 2186 388 2188 398 2192 408 2193 418 2192 430 2185 440 2186 450 2188 460 2191 468 2193 478 2188 488 2189 498 2188 508 2191 516 2192 524 2188 532 2190 542 2194 552 2196 562 2195 572 2191 580 2190 588 2188 596 2188 603 2188" stroke="#377EB8" stroke-width="2.50" stroke-dasharray="2.9 7.1"/>
<path d="M68 2193 78 2193 88 2195 98 2193 108 2193 118 2191 128 2191 138 2193 148 2192 158 2192 168 2192 178 2193 188 2195 198 2198 210 2199 220 2198 230 2197 240 2196 250 2193 260 2192 270 2194 280 2196 290 2195 300 2193 310 2192 320 2193 330 2195 340 2195 350 2192 360 2191 370 2190 380 2191 390 2194 400 2196 410 2196 420 2196 430 2192 440 2190 450 2192 460 2195 470 2193 480 2196 490 2195 500 2194 510 2197 518 2195 528 2193 537 2195 546 2197 555 2198 565 2197 575 2196 585 2196 595 2195 603 2195" stroke="#4DAF4A" stroke-width="2.50" stroke-dasharray="2.9 7.1"/>
<path d="M68.2 2188.6 73.1 2187.2 78.7 2191.3 84.2 2198.3 89.8 2199.7 92.5 2195.5 98.1 2188.6 103.6 2177.5 114.7 2173.3 117.5 2173.3 120.3 2180.2 123.1 2181.6 124.4 2187.2 131.4 2190 138.3 2196.9 145.3 2195.5 152.2 2194.1 159.1 2184.4 166.1 2180.2 170.2 2177.5 175.8 2176.1 181.3 2174.7 184.1 2176.1 186.9 2181.6 189.7 2190 193.8 2196.9 200.8 2198.3 207.7 2199.7 214.6 2203.8 218.8 2201.1 224.4 2191.3 228.5 2187.2 231.3 2178.9 234.1 2167.8 238.2 2165 240.9 2164.2 245.3 2157.6 246.7 2155.4 249.6 2156.1 251.1 2172.2 254 2174.4 259.9 2176.6 263.6 2174.4 265.8 2179.6 270.2 2181 273.1 2185.4 279 2188.3 284.8 2189.8 290.7 2192.7 296.5 2198.6 303.9 2200.1 311.2 2197.1 317 2200.1 322.9 2203.7 330 2203.7 337.5 2204.5 340.5 2198.6 347.8 2195.7 355.1 2191.3 361 2185.4 363.9 2178.1 369.8 2179.6 375.6 2181 380 2188.3 384.4 2195.7 387.4 2200.1 390.3 2203 396.1 2203 403.5 2198.6 410.8 2198.6 418.1 2201.5 420 2198.8 428.6 2199.5 434.3 2197.3 441.5 2199.5 448.7 2197.3 455.9 2195.9 463 2197.3 470.2 2195.2 474.5 2195.9 480.2 2198.8 486 2195.9 491.7 2193 498.9 2193 506 2192.3 513.2 2195.9 520.4 2199.5 530 2199.5 539 2201.6 550.5 2201.6 556.2 2198.8 563.4 2198.8 567.7 2201.6 576.3 2203.1 583.5 2204.5 592.1 2203.1 597.8 2198.8 603 2200.2" stroke="#E41A1C" stroke-width="2.20"/>
<path d="M68.2 2184.4 75.9 2185.8 82.8 2188.6 87 2191.3 93.9 2187.2 100.9 2183 103.6 2180.2 110.6 2179.5 117.5 2178.9 118.9 2183 124.4 2181.6 131.4 2181.6 138.3 2180.2 139 2188.6 145.3 2188.6 152.2 2187.2 159.1 2185.8 162 2187 167.5 2190 173 2190 180 2191.3 186.9 2194.1 193.8 2199.7 200.8 2201.1 207.7 2201.1 216 2203.8 221.6 2195.5 228.5 2192.7 231.3 2180.2 240.9 2181 243.8 2175.9 248.2 2175.2 251.1 2184 254 2188.3 257 2186.9 261.4 2189.8 264.3 2194.2 270.2 2195.7 276 2198.6 283.3 2198.6 290.7 2200.1 298 2197.1 305.3 2194.2 309.7 2185.4 314.1 2188.3 320 2192.7 325.8 2194.2 331.7 2192 337.5 2192.7 343.4 2197.1 346.3 2200.1 352.2 2197.1 356.6 2189.8 362.5 2175.2 368.3 2171.5 374.2 2171.5 378.6 2175.2 380 2184 384.4 2188.3 387.4 2197.1 390.3 2200.1 396.1 2200.1 403.5 2198.6 418.1 2198.6 420 2197.3 427.2 2200.2 434.3 2196.6 441.5 2199.5 448.7 2198.8 455.9 2197.3 463 2199.5 470.2 2195.9 477.4 2198.8 483.1 2200.9 488.8 2197.3 496 2193 503.2 2191.6 510.3 2191.6 516.1 2194.5 520.4 2197.3 527.6 2199.5 534.7 2198.8 541.9 2199.5 549.1 2197.3 556.2 2194.5 563.4 2195.9 570.6 2198.8 577.7 2200.2 584.9 2199.5 592.1 2194.5 603 2193" stroke="#377EB8" stroke-width="2.20"/>
<path d="M68.2 2196.9 71.7 2196.9 72.4 2184.4 82.8 2184.4 83.5 2190 91.8 2190 92.5 2184.4 102.2 2184.4 102.9 2192.7 117.5 2192.7 120.3 2205.2 150.8 2205.2 151.5 2201.1 168.9 2201.1 169.5 2192.7 171.5 2192.7 172.3 2196.9 188.3 2196.9 189.7 2201.1 199.4 2201.1 200.1 2205.9 211.2 2205.9 211.9 2201.1 219.5 2192.7 229.9 2192.7 230.6 2188.6 244 2188.6 244.5 2184 249.6 2184 250.4 2188.3 273.1 2188.3 273.8 2195.7 285 2195.7 285.5 2200.1 289.5 2200.1 290 2192.7 308.3 2192.7 309.7 2188.3 325.8 2188.3 326.6 2184 331.7 2184 332.4 2188.3 340.5 2188.3 341.9 2197.1 343.4 2205.9 352.2 2205.9 352.9 2198.6 356.6 2195.7 359.5 2188.3 368.3 2188.3 369.8 2181 375.6 2176.6 377.1 2170.8 380.8 2167.1 387.4 2167.1 388.1 2170.8 391.8 2175.2 394.7 2184 396.1 2192.7 399.1 2194.2 403.5 2198.6 413.7 2200.1 415.2 2205.9 429.5 2205.9 430 2193 430.8 2205.2 460.9 2205.2 461.6 2200.9 470.2 2200.9 470.9 2192.3 480.5 2192.3 481 2188 486.7 2188 487.4 2184.4 488.2 2188 510.3 2188 511.8 2193 517.5 2193 519 2205.2 551.9 2205.2 552.7 2197.3 576.3 2197.3 577 2201.6 592.1 2201.6 592.8 2195.9 603 2195.9" stroke="#4DAF4A" stroke-width="2.20"/>
</g>
<rect x="67.5" y="1744.7" width="535.1" height="479.1" fill="none" stroke="#000" stroke-width="2"/>
<text transform="translate(45.7,2199.1) rotate(-90) scale(0.9579,1)" font-size="21.72" text-anchor="middle">0e+00</text>
<text transform="translate(45.7,2110.4) rotate(-90) scale(0.9579,1)" font-size="21.72" text-anchor="middle">1e−05</text>
<text transform="translate(45.7,2021.7) rotate(-90) scale(0.9579,1)" font-size="21.72" text-anchor="middle">2e−05</text>
<text transform="translate(45.7,1932.9) rotate(-90) scale(0.9579,1)" font-size="21.72" text-anchor="middle">3e−05</text>
<text transform="translate(45.7,1844.2) rotate(-90) scale(0.9579,1)" font-size="21.72" text-anchor="middle">4e−05</text>
<text transform="translate(45.7,1755.5) rotate(-90) scale(0.9579,1)" font-size="21.72" text-anchor="middle">5e−05</text>
<text transform="translate(103.1,2257.2) scale(0.9579,1)" font-size="21.72" text-anchor="middle">42.044</text>
<text transform="translate(202.2,2257.2) scale(0.9579,1)" font-size="21.72" text-anchor="middle">42.046</text>
<text transform="translate(301.2,2257.2) scale(0.9579,1)" font-size="21.72" text-anchor="middle">42.048</text>
<text transform="translate(400.3,2257.2) scale(0.9579,1)" font-size="21.72" text-anchor="middle">42.050</text>
<text transform="translate(499.4,2257.2) scale(0.9579,1)" font-size="21.72" text-anchor="middle">42.052</text>
<text transform="translate(598.5,2257.2) scale(0.9579,1)" font-size="21.72" text-anchor="middle">42.054</text>
<path d="M67.5 2206.1H57.3M67.5 2117.4H57.3M67.5 2028.7H57.3M67.5 1939.9H57.3M67.5 1851.2H57.3M67.5 1762.5H57.3M106.4 2223.8V2234.2M205.5 2223.8V2234.2M304.5 2223.8V2234.2M403.6 2223.8V2234.2M502.7 2223.8V2234.2M601.8 2223.8V2234.2" stroke="#000" stroke-width="2" fill="none"/>
<text transform="translate(359.9,2294.2) scale(0.9579,1)" font-size="27.14" text-anchor="middle">position (MB) − 2L chromosome</text>
<text transform="translate(18.9,1960) rotate(-90) scale(0.9579,1)" font-size="26.83" text-anchor="middle">normalized coverage</text>
<text transform="translate(587.3,1770.7) scale(0.9579,1)" font-size="21.72" text-anchor="end" font-weight="bold">DLX</text>
<text transform="translate(588.3,1795.3) scale(0.9579,1)" font-size="21.72" text-anchor="end" font-weight="bold" textLength="172.57" lengthAdjust="spacingAndGlyphs">Negative Control</text>
<line x1="335.1" y1="1298.9" x2="335.1" y2="1356" stroke="#000" stroke-width="2.7"/><path d="M335.1,1371.7 Q330.5,1358.5 323.2,1350.2 L335.1,1354.6 L347.1,1350.2 Q339.7,1358.5 335.1,1371.7 Z" fill="#000"/>
</svg></body></html>
